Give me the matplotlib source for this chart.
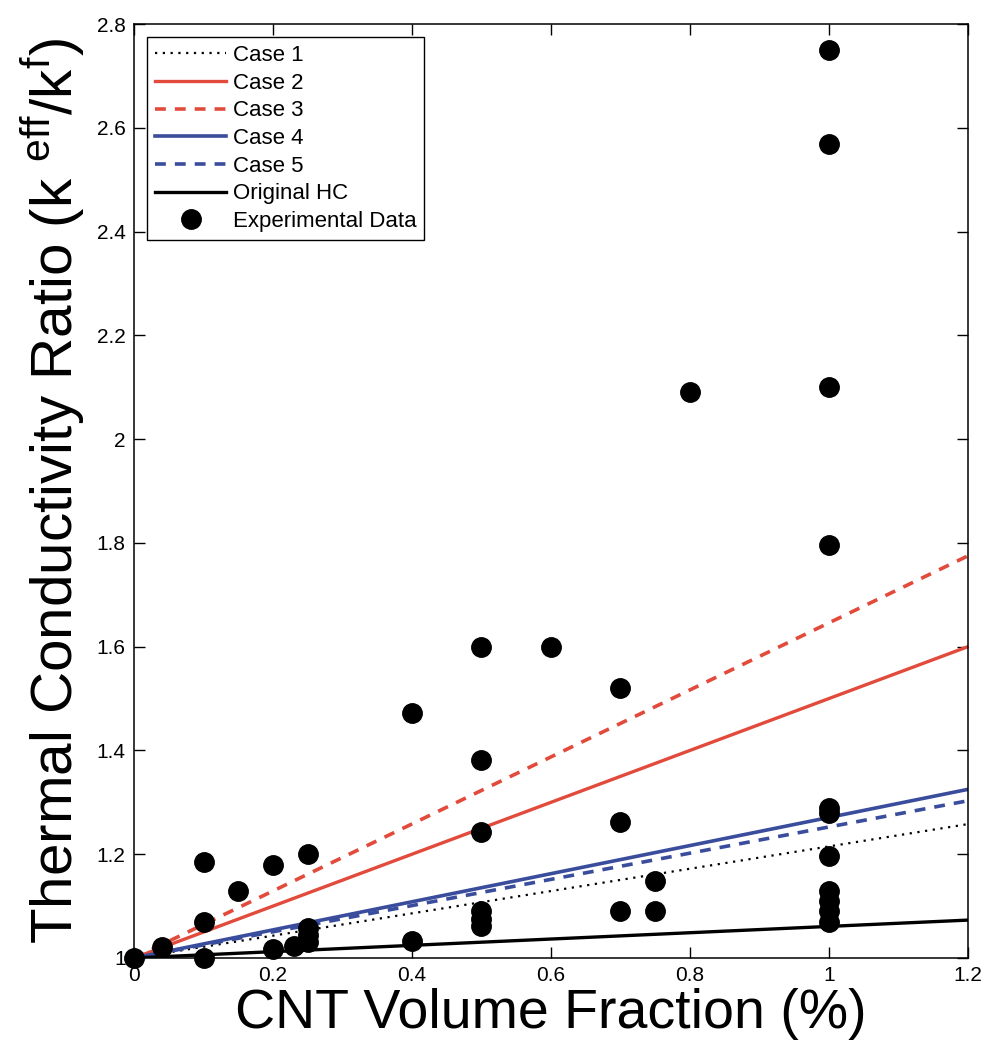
import matplotlib
matplotlib.use("Agg")
import matplotlib.pyplot as plt
from matplotlib.ticker import FuncFormatter

plt.rcParams["font.family"] = ["Liberation Sans", "DejaVu Sans"]
plt.rcParams["mathtext.fontset"] = "custom"
plt.rcParams["mathtext.rm"] = "Liberation Sans"

# model lines: value at 0 and 1.2 % volume fraction
line_x = [0.0, 1.2]
case1 = [1.0, 1.258]
case2 = [1.0, 1.600]
case3 = [1.0, 1.775]
case4 = [1.0, 1.325]
case5 = [1.0, 1.303]
original_hc = [1.0, 1.073]

# experimental data
exp_x = [0.0, 0.04, 0.1, 0.1, 0.1, 0.15, 0.2, 0.2, 0.23, 0.25, 0.25, 0.25, 0.25,
         0.4, 0.4, 0.5, 0.5, 0.5, 0.5, 0.5, 0.5, 0.6, 0.7, 0.7, 0.7, 0.75, 0.75,
         0.8, 1.0, 1.0, 1.0, 1.0, 1.0, 1.0, 1.0, 1.0, 1.0, 1.0, 1.0]
exp_y = [1.0, 1.022, 1.185, 1.07, 1.0, 1.13, 1.18, 1.017, 1.023, 1.2, 1.03, 1.045, 1.058,
         1.472, 1.033, 1.6, 1.382, 1.242, 1.09, 1.075, 1.062, 1.6, 1.52, 1.262, 1.09,
         1.148, 1.09, 2.09, 2.75, 2.568, 2.1, 1.795, 1.29, 1.28, 1.197, 1.13, 1.11,
         1.09, 1.07]

red = "#e24b3c"
blue = "#3a4c9c"

fig = plt.figure(figsize=(9.87, 10.44), dpi=100)
ax = fig.add_axes([0.1358, 0.0824, 0.8449, 0.8946])

ax.plot(line_x, case1, color="black", linestyle=(0, (1, 2.5)), linewidth=1.6, label="Case 1")
ax.plot(line_x, case2, color=red, linestyle="-", linewidth=2.4, label="Case 2")
ax.plot(line_x, case3, color=red, linestyle=(0, (3, 2.5)), linewidth=2.6, label="Case 3")
ax.plot(line_x, case4, color=blue, linestyle="-", linewidth=2.6, label="Case 4")
ax.plot(line_x, case5, color=blue, linestyle=(0, (3, 2.5)), linewidth=2.6, label="Case 5")
ax.plot(line_x, original_hc, color="black", linestyle="-", linewidth=2.4, label="Original HC")
ax.plot(exp_x, exp_y, linestyle="none", marker="o", markersize=14, color="black",
        label="Experimental Data", clip_on=False, zorder=3)

ax.set_xlim(0, 1.2)
ax.set_ylim(1, 2.8)
ax.set_xticks([0, 0.2, 0.4, 0.6, 0.8, 1.0, 1.2])
ax.set_yticks([1.0, 1.2, 1.4, 1.6, 1.8, 2.0, 2.2, 2.4, 2.6, 2.8])
fmt = FuncFormatter(lambda v, p: "%g" % round(v, 2))
ax.xaxis.set_major_formatter(fmt)
ax.yaxis.set_major_formatter(fmt)
ax.tick_params(direction="in", length=8, width=1, labelsize=15, top=True, right=True, pad=6)
for sp in ax.spines.values():
    sp.set_linewidth(1.1)

ax.set_xlabel("CNT Volume Fraction (%)", fontsize=40, labelpad=2)
ax.set_ylabel(r"Thermal Conductivity Ratio (k $^{\mathrm{eff}}$/k$^{\mathrm{f}}$)", fontsize=42, labelpad=6)

leg = ax.legend(loc="upper left", fontsize=16, handlelength=3.2, labelspacing=0.3,
                fancybox=False, framealpha=1, edgecolor="black", borderaxespad=0.6,
                handletextpad=0.3, borderpad=0.35)
leg.get_frame().set_linewidth(1.0)

fig.savefig("out.png", dpi=100)
